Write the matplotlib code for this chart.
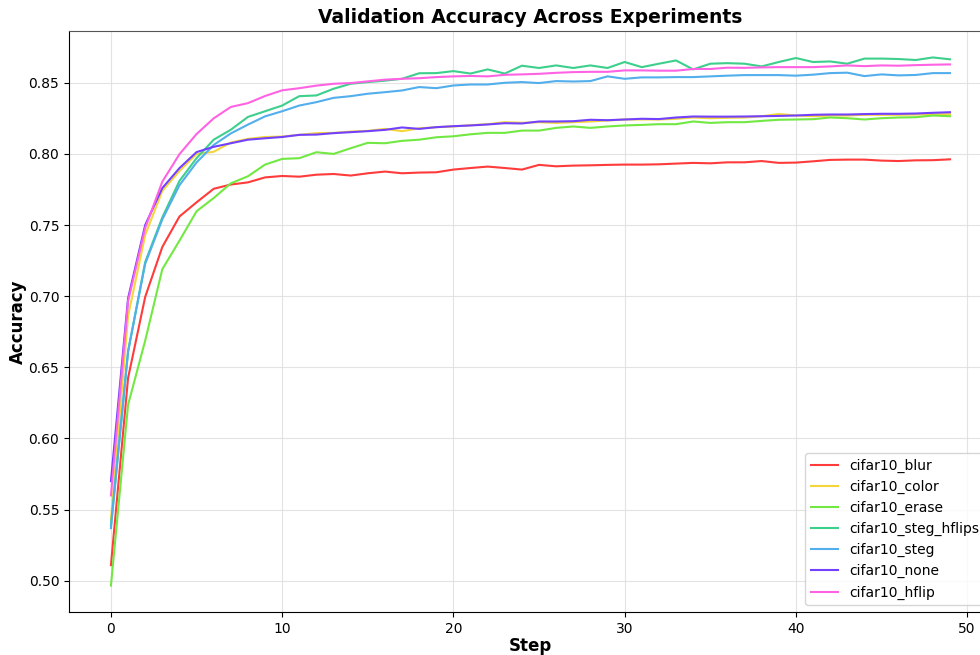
import numpy as np
import matplotlib
matplotlib.use("Agg")
import matplotlib.pyplot as plt

steps = np.arange(50)

blur = [0.511, 0.6425, 0.6995, 0.7346, 0.756, 0.766, 0.7755, 0.7785, 0.780, 0.7835,
        0.7845, 0.784, 0.7854, 0.7859, 0.7848, 0.7864, 0.7876, 0.7864, 0.7869, 0.7871,
        0.789, 0.7901, 0.7911, 0.7901, 0.789, 0.7923, 0.7913, 0.7918, 0.792, 0.7923,
        0.7925, 0.7925, 0.7927, 0.7932, 0.7937, 0.7934, 0.7941, 0.7941, 0.795, 0.7937,
        0.7939, 0.7948, 0.7958, 0.796, 0.796, 0.7953, 0.795, 0.7955, 0.7956, 0.7962]
color = [0.543, 0.686, 0.743, 0.774, 0.788, 0.800, 0.8015, 0.808, 0.8106, 0.8119,
         0.8122, 0.8134, 0.8146, 0.8148, 0.8157, 0.8162, 0.8176, 0.816, 0.818, 0.8188,
         0.8193, 0.8202, 0.8209, 0.8223, 0.8219, 0.8223, 0.8218, 0.8223, 0.8228, 0.8235,
         0.8242, 0.8242, 0.8242, 0.8247, 0.8256, 0.8251, 0.8254, 0.8256, 0.8265, 0.828,
         0.827, 0.8265, 0.827, 0.827, 0.8275, 0.8275, 0.8275, 0.8277, 0.8279, 0.8279]
erase = [0.4966, 0.6237, 0.6688, 0.719, 0.739, 0.7597, 0.769, 0.7793, 0.7843, 0.7925,
         0.7965, 0.797, 0.8012, 0.800, 0.804, 0.8078, 0.8075, 0.8092, 0.810, 0.8117,
         0.8124, 0.8138, 0.8148, 0.8148, 0.8164, 0.8164, 0.8183, 0.8193, 0.8183, 0.8193,
         0.820, 0.8204, 0.8209, 0.8209, 0.8228, 0.8218, 0.8223, 0.8223, 0.8232, 0.824,
         0.8242, 0.8244, 0.8256, 0.8251, 0.8242, 0.8251, 0.8256, 0.8258, 0.827, 0.8265]
steg_hflips = [0.539, 0.661, 0.724, 0.7554, 0.781, 0.797, 0.810, 0.817, 0.826, 0.830,
               0.834, 0.8406, 0.8411, 0.8458, 0.8493, 0.8505, 0.8515, 0.8528, 0.8567, 0.8568,
               0.8582, 0.8565, 0.8594, 0.8565, 0.862, 0.8604, 0.8622, 0.8604, 0.8622, 0.8604,
               0.8646, 0.861, 0.8634, 0.8657, 0.8594, 0.8634, 0.8638, 0.8634, 0.8615, 0.8646,
               0.8674, 0.8646, 0.865, 0.8634, 0.867, 0.867, 0.8667, 0.866, 0.8678, 0.8665]
steg = [0.537, 0.6613, 0.7228, 0.754, 0.778, 0.794, 0.8063, 0.8144, 0.8206, 0.8264,
        0.830, 0.834, 0.8364, 0.8394, 0.8406, 0.8423, 0.8434, 0.8446, 0.847, 0.8462,
        0.8481, 0.8488, 0.8488, 0.850, 0.8505, 0.8498, 0.8512, 0.8509, 0.8512, 0.8545,
        0.8528, 0.8538, 0.8538, 0.854, 0.854, 0.8545, 0.855, 0.8554, 0.8554, 0.8554,
        0.855, 0.8557, 0.8568, 0.8571, 0.8547, 0.8559, 0.8552, 0.8555, 0.8568, 0.8568]
none = [0.570, 0.6985, 0.750, 0.776, 0.790, 0.8013, 0.805, 0.8075, 0.810, 0.811,
        0.8119, 0.8134, 0.8136, 0.8146, 0.8153, 0.816, 0.8169, 0.8186, 0.8176, 0.8188,
        0.8195, 0.820, 0.8207, 0.8216, 0.8214, 0.8228, 0.8228, 0.823, 0.824, 0.8237,
        0.8242, 0.8247, 0.8245, 0.8256, 0.8263, 0.8262, 0.8262, 0.8263, 0.8265, 0.8267,
        0.827, 0.8275, 0.8277, 0.8277, 0.828, 0.8282, 0.8282, 0.8284, 0.8289, 0.8293]
hflip = [0.560, 0.6965, 0.748, 0.7805, 0.7998, 0.814, 0.825, 0.833, 0.8357, 0.8407,
         0.8447, 0.8462, 0.848, 0.8493, 0.8498, 0.851, 0.8522, 0.8528, 0.8532, 0.854,
         0.8545, 0.8548, 0.8545, 0.8556, 0.8559, 0.8563, 0.857, 0.8575, 0.8577, 0.8577,
         0.8587, 0.8587, 0.8585, 0.8585, 0.8597, 0.8597, 0.8606, 0.8605, 0.8608, 0.861,
         0.861, 0.861, 0.8615, 0.8622, 0.8617, 0.8622, 0.862, 0.8624, 0.8627, 0.8629]

names = ['cifar10_blur', 'cifar10_color', 'cifar10_erase', 'cifar10_steg_hflips',
         'cifar10_steg', 'cifar10_none', 'cifar10_hflip']
series = [blur, color, erase, steg_hflips, steg, none, hflip]
colors = ['#ff3b3b', '#f5d53a', '#72e843', '#3dcf8c', '#52aeec', '#7240ff', '#ff63e3']

fig = plt.figure(figsize=(9.8, 6.55), dpi=100)
ax = fig.add_axes([0.0704, 0.0656, 0.9418, 0.887])

for name, vals, c in zip(names, series, colors):
    ax.plot(steps, vals, color=c, lw=1.5, label=name)

ax.grid(True, color='#dddddd', lw=0.8, alpha=0.8)
ax.set_axisbelow(True)
ax.set_title('Validation Accuracy Across Experiments', fontsize=13.5, fontweight='bold')
ax.set_xlabel('Step', fontsize=12, fontweight='bold', labelpad=1)
ax.set_ylabel('Accuracy', fontsize=12, fontweight='bold', labelpad=1)
ax.spines['top'].set_color('#555555')
ax.legend(loc='lower right', fontsize=10)

fig.savefig('out.png', dpi=100)
